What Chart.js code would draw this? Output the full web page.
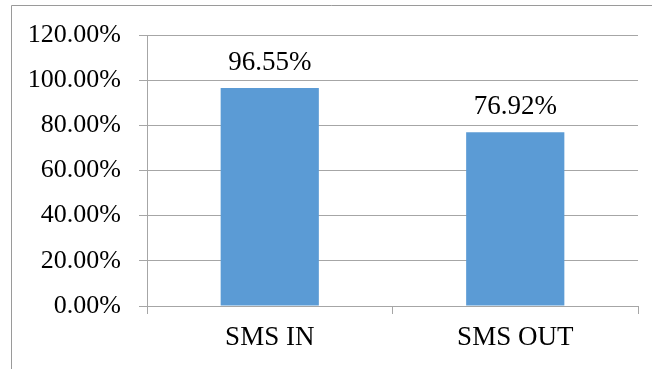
<!DOCTYPE html>
<html>
<head>
<meta charset="utf-8">
<script src="https://cdn.jsdelivr.net/npm/chart.js@4.4.1/dist/chart.umd.min.js"></script>
<style>
  html, body { margin: 0; padding: 0; background: #fff; }
  #wrap { width: 652px; height: 369px; position: relative; }
</style>
</head>
<body>
<div id="wrap"><canvas id="chart" width="652" height="369"></canvas></div>
<script>
const categories = ['SMS IN', 'SMS OUT'];
const percentValues = [96.55, 76.92];
const tickValues = [0, 20, 40, 60, 80, 100, 120];

const lineGray = '#a6a6a6';
const serif = '"Liberation Serif", "Times New Roman", serif';

// Outer chart-area frame (top and left edges only are visible)
const framePlugin = {
    id: 'frame',
    beforeDraw(chart) {
        const ctx = chart.ctx;
        ctx.save();
        ctx.strokeStyle = '#9a9a9a';
        ctx.lineWidth = 1;
        ctx.beginPath();
        ctx.moveTo(652, 5.5);
        ctx.lineTo(11.5, 5.5);
        ctx.lineTo(11.5, 369);
        ctx.stroke();
        ctx.restore();
    }
};

// Value labels above each bar
const valueLabels = {
    id: 'valueLabels',
    afterDatasetsDraw(chart) {
        const ctx = chart.ctx;
        const meta = chart.getDatasetMeta(0);
        ctx.save();
        ctx.font = '27px ' + serif;
        ctx.fillStyle = '#000';
        ctx.textAlign = 'center';
        ctx.textBaseline = 'alphabetic';
        meta.data.forEach((bar, i) => {
            ctx.fillText(percentValues[i].toFixed(2) + '%', bar.x, bar.y - 18);
        });
        ctx.restore();
    }
};

const ctx = document.getElementById('chart').getContext('2d');
new Chart(ctx, {
    type: 'bar',
    data: {
        labels: categories,
        datasets: [{
            data: percentValues,
            backgroundColor: '#5b9bd5',
            barPercentage: 0.8,
            categoryPercentage: 0.5
        }]
    },
    options: {
        responsive: false,
        animation: false,
        events: [],
        layout: { padding: { top: 35, right: 14, bottom: 0, left: 0 } },
        plugins: {
            legend: { display: false },
            tooltip: { enabled: false }
        },
        scales: {
            x: {
                grid: {
                    offset: true,
                    drawOnChartArea: false,
                    drawTicks: true,
                    tickLength: 8,
                    color: lineGray
                },
                border: { color: lineGray },
                ticks: {
                    color: '#000',
                    font: { family: serif, size: 27 },
                    padding: 8,
                    maxRotation: 0
                },
                afterFit(scale) { scale.height = 63; }
            },
            y: {
                min: 0,
                max: 120,
                afterBuildTicks(scale) {
                    scale.ticks = tickValues.map(v => ({ value: v }));
                },
                grid: {
                    color: lineGray,
                    tickLength: 8
                },
                border: { color: lineGray },
                ticks: {
                    color: '#000',
                    font: { family: serif, size: 26 },
                    padding: 18,
                    callback: v => v.toFixed(2) + '%'
                },
                afterFit(scale) { scale.width = 147; }
            }
        }
    },
    plugins: [framePlugin, valueLabels]
});
</script>
</body>
</html>
